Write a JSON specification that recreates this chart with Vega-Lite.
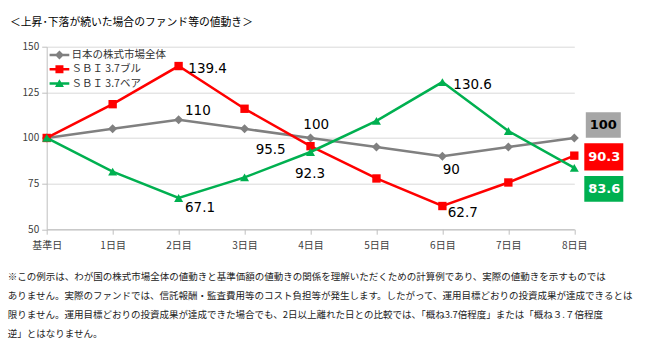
{
  "$schema": "https://vega.github.io/schema/vega-lite/v6.json",
  "autosize": "none",
  "width": 527.6,
  "height": 182.5,
  "padding": {"left": 46.7, "top": 46.7, "right": 76.7, "bottom": 123.8},
  "background": "white",
  "title": {
    "text": "＜上昇･下落が続いた場合のファンド等の値動き＞",
    "anchor": "start",
    "frame": "group",
    "orient": "top",
    "offset": 4.5,
    "dx": -36.7,
    "baseline": "alphabetic",
    "font": "Noto Sans CJK JP",
    "fontSize": 10.8,
    "fontWeight": "normal",
    "color": "#000000"
  },
  "config": {
    "view": {"stroke": null},
    "axis": {"labelFont": "Noto Sans CJK JP", "labelFontSize": 10, "labelColor": "#404040", "domainColor": "#bfbfbf", "tickColor": "#bfbfbf"}
  },
  "data": {
    "values": [
      {"day": "基準日", "series": "日本の株式市場全体", "value": 100},
      {"day": "1日目", "series": "日本の株式市場全体", "value": 105},
      {"day": "2日目", "series": "日本の株式市場全体", "value": 110},
      {"day": "3日目", "series": "日本の株式市場全体", "value": 105},
      {"day": "4日目", "series": "日本の株式市場全体", "value": 100},
      {"day": "5日目", "series": "日本の株式市場全体", "value": 95},
      {"day": "6日目", "series": "日本の株式市場全体", "value": 90},
      {"day": "7日目", "series": "日本の株式市場全体", "value": 95},
      {"day": "8日目", "series": "日本の株式市場全体", "value": 100},
      {"day": "基準日", "series": "ＳＢＩ 3.7ブル", "value": 100},
      {"day": "1日目", "series": "ＳＢＩ 3.7ブル", "value": 118.5},
      {"day": "2日目", "series": "ＳＢＩ 3.7ブル", "value": 139.4},
      {"day": "3日目", "series": "ＳＢＩ 3.7ブル", "value": 116.0},
      {"day": "4日目", "series": "ＳＢＩ 3.7ブル", "value": 95.5},
      {"day": "5日目", "series": "ＳＢＩ 3.7ブル", "value": 77.8},
      {"day": "6日目", "series": "ＳＢＩ 3.7ブル", "value": 62.7},
      {"day": "7日目", "series": "ＳＢＩ 3.7ブル", "value": 75.6},
      {"day": "8日目", "series": "ＳＢＩ 3.7ブル", "value": 90.3},
      {"day": "基準日", "series": "ＳＢＩ 3.7ベア", "value": 100},
      {"day": "1日目", "series": "ＳＢＩ 3.7ベア", "value": 81.5},
      {"day": "2日目", "series": "ＳＢＩ 3.7ベア", "value": 67.1},
      {"day": "3日目", "series": "ＳＢＩ 3.7ベア", "value": 78.4},
      {"day": "4日目", "series": "ＳＢＩ 3.7ベア", "value": 92.3},
      {"day": "5日目", "series": "ＳＢＩ 3.7ベア", "value": 109.4},
      {"day": "6日目", "series": "ＳＢＩ 3.7ベア", "value": 130.6},
      {"day": "7日目", "series": "ＳＢＩ 3.7ベア", "value": 103.8},
      {"day": "8日目", "series": "ＳＢＩ 3.7ベア", "value": 83.6}
    ]
  },
  "encoding": {
    "x": {
      "field": "day",
      "type": "ordinal",
      "sort": ["基準日", "1日目", "2日目", "3日目", "4日目", "5日目", "6日目", "7日目", "8日目"],
      "scale": {"type": "point", "padding": 0},
      "axis": {
        "labelAngle": 0,
        "tickSize": 5,
        "labelPadding": 6,
        "grid": false,
        "title": [
          "※この例示は、わが国の株式市場全体の値動きと基準価額の値動きの関係を理解いただくための計算例であり、実際の値動きを示すものでは",
          "ありません。実際のファンドでは、信託報酬・監査費用等のコスト負担等が発生します。したがって、運用目標どおりの投資成果が達成できるとは",
          "限りません。運用目標どおりの投資成果が達成できた場合でも、2日以上離れた日との比較では、「概ね3.7倍程度」または「概ね３.７倍程度",
          "逆」とはなりません。"
        ],
        "titleX": -39.4,
        "titleY": 50.2,
        "titleAlign": "left",
        "titleAnchor": "start",
        "titleBaseline": "alphabetic",
        "titleLineHeight": 19,
        "titleFont": "Noto Sans CJK JP",
        "titleFontSize": 9.5,
        "titleFontWeight": "normal",
        "titleColor": "#222222"
      }
    },
    "y": {
      "field": "value",
      "type": "quantitative",
      "scale": {"domain": [50, 150], "nice": false, "zero": false},
      "axis": {"values": [50, 75, 100, 125, 150], "title": null, "grid": true, "gridColor": "#d9d9d9", "tickSize": 5, "labelPadding": 3}
    }
  },
  "layer": [
    {
      "transform": [{"filter": "datum.series === '日本の株式市場全体'"}],
      "mark": {"type": "line", "strokeWidth": 2.5, "color": "#808080"}
    },
    {
      "transform": [{"filter": "datum.series === '日本の株式市場全体'"}],
      "mark": {"type": "point", "shape": "diamond", "filled": true, "opacity": 1, "size": 81, "color": "#808080"}
    },
    {
      "transform": [{"filter": "datum.series === 'ＳＢＩ 3.7ブル'"}],
      "mark": {"type": "line", "strokeWidth": 2.5, "color": "#ff0000"}
    },
    {
      "transform": [{"filter": "datum.series === 'ＳＢＩ 3.7ブル'"}],
      "mark": {"type": "point", "shape": "square", "filled": true, "opacity": 1, "size": 70, "color": "#ff0000"}
    },
    {
      "transform": [{"filter": "datum.series === 'ＳＢＩ 3.7ベア'"}],
      "mark": {"type": "line", "strokeWidth": 2.5, "color": "#00b050"}
    },
    {
      "transform": [{"filter": "datum.series === 'ＳＢＩ 3.7ベア'"}],
      "mark": {"type": "point", "shape": "triangle-up", "filled": true, "opacity": 1, "size": 81, "color": "#00b050"}
    },
    {
      "transform": [{"filter": "false"}],
      "mark": {"type": "point", "filled": true, "opacity": 1, "size": 100},
      "encoding": {
        "color": {
          "field": "series",
          "type": "nominal",
          "scale": {"domain": ["日本の株式市場全体", "ＳＢＩ 3.7ブル", "ＳＢＩ 3.7ベア"], "range": ["#808080", "#ff0000", "#00b050"]},
          "legend": {"orient": "none", "legendX": 7.5, "legendY": 3, "title": null, "symbolSize": 100, "labelFont": "Noto Sans CJK JP", "labelFontSize": 10.5, "labelColor": "#333333", "labelOffset": 6.8, "rowPadding": 3.3, "padding": 0, "symbolStrokeWidth": 0, "symbolOpacity": 1}
        },
        "shape": {
          "field": "series",
          "type": "nominal",
          "scale": {
            "domain": ["日本の株式市場全体", "ＳＢＩ 3.7ブル", "ＳＢＩ 3.7ベア"],
            "range": [
              "M-1.97,-0.26H1.97V0.26H-1.97Z M0,-0.9L0.9,0L0,0.9L-0.9,0Z",
              "M-1.97,-0.26H1.97V0.26H-1.97Z M-0.8,-0.8H0.8V0.8H-0.8Z",
              "M-1.97,-0.26H1.97V0.26H-1.97Z M0,-0.85L0.9,0.7L-0.9,0.7Z"
            ]
          },
          "legend": {"orient": "none", "legendX": 7.5, "legendY": 3, "title": null, "symbolSize": 100, "labelFont": "Noto Sans CJK JP", "labelFontSize": 10.5, "labelColor": "#333333", "labelOffset": 6.8, "rowPadding": 3.3, "padding": 0, "symbolStrokeWidth": 0, "symbolOpacity": 1}
        }
      }
    },
    {
      "transform": [{"filter": "datum.series === 'ＳＢＩ 3.7ブル' && datum.day === '2日目'"}],
      "mark": {"type": "text", "align": "left", "baseline": "alphabetic", "dx": 9.7, "dy": 7.3, "font": "DejaVu Sans", "fontSize": 13.5, "color": "#000000"},
      "encoding": {"text": {"field": "value", "type": "nominal"}}
    },
    {
      "transform": [{"filter": "datum.series === '日本の株式市場全体' && datum.day === '2日目'"}],
      "mark": {"type": "text", "align": "left", "baseline": "alphabetic", "dx": 6.4, "dy": -4.5, "font": "DejaVu Sans", "fontSize": 13.5, "color": "#000000"},
      "encoding": {"text": {"field": "value", "type": "nominal"}}
    },
    {
      "transform": [{"filter": "datum.series === 'ＳＢＩ 3.7ベア' && datum.day === '2日目'"}],
      "mark": {"type": "text", "align": "left", "baseline": "alphabetic", "dx": 6.4, "dy": 13.7, "font": "DejaVu Sans", "fontSize": 13.5, "color": "#000000"},
      "encoding": {"text": {"field": "value", "type": "nominal"}}
    },
    {
      "transform": [{"filter": "datum.series === 'ＳＢＩ 3.7ブル' && datum.day === '4日目'"}],
      "mark": {"type": "text", "align": "right", "baseline": "alphabetic", "dx": -24.8, "dy": 7.8, "font": "DejaVu Sans", "fontSize": 13.5, "color": "#000000"},
      "encoding": {"text": {"field": "value", "type": "nominal"}}
    },
    {
      "transform": [{"filter": "datum.series === '日本の株式市場全体' && datum.day === '4日目'"}],
      "mark": {"type": "text", "align": "left", "baseline": "alphabetic", "dx": -7.2, "dy": -9, "font": "DejaVu Sans", "fontSize": 13.5, "color": "#000000"},
      "encoding": {"text": {"field": "value", "type": "nominal"}}
    },
    {
      "transform": [{"filter": "datum.series === 'ＳＢＩ 3.7ベア' && datum.day === '4日目'"}],
      "mark": {"type": "text", "align": "left", "baseline": "alphabetic", "dx": -15.5, "dy": 25.7, "font": "DejaVu Sans", "fontSize": 13.5, "color": "#000000"},
      "encoding": {"text": {"field": "value", "type": "nominal"}}
    },
    {
      "transform": [{"filter": "datum.series === 'ＳＢＩ 3.7ベア' && datum.day === '6日目'"}],
      "mark": {"type": "text", "align": "left", "baseline": "alphabetic", "dx": 10.9, "dy": 7.2, "font": "DejaVu Sans", "fontSize": 13.5, "color": "#000000"},
      "encoding": {"text": {"field": "value", "type": "nominal"}}
    },
    {
      "transform": [{"filter": "datum.series === '日本の株式市場全体' && datum.day === '6日目'"}],
      "mark": {"type": "text", "align": "left", "baseline": "alphabetic", "dx": 0.3, "dy": 17.8, "font": "DejaVu Sans", "fontSize": 13.5, "color": "#000000"},
      "encoding": {"text": {"field": "value", "type": "nominal"}}
    },
    {
      "transform": [{"filter": "datum.series === 'ＳＢＩ 3.7ブル' && datum.day === '6日目'"}],
      "mark": {"type": "text", "align": "left", "baseline": "alphabetic", "dx": 5.3, "dy": 11.3, "font": "DejaVu Sans", "fontSize": 13.5, "color": "#000000"},
      "encoding": {"text": {"field": "value", "type": "nominal"}}
    },
    {
      "transform": [{"filter": "datum.series === '日本の株式市場全体' && datum.day === '8日目'"}],
      "mark": {"type": "point", "shape": "M-1,-0.726H1V0.726H-1Z", "filled": true, "opacity": 1, "size": 1225, "color": "#a6a6a6", "xOffset": 29, "yOffset": -13}
    },
    {
      "transform": [{"filter": "datum.series === 'ＳＢＩ 3.7ブル' && datum.day === '8日目'"}],
      "mark": {"type": "point", "shape": "M-1,-0.7H1V0.7H-1Z", "filled": true, "opacity": 1, "size": 1521, "color": "#ff0000", "xOffset": 29.5, "yOffset": 1.3}
    },
    {
      "transform": [{"filter": "datum.series === 'ＳＢＩ 3.7ベア' && datum.day === '8日目'"}],
      "mark": {"type": "point", "shape": "M-1,-0.66H1V0.66H-1Z", "filled": true, "opacity": 1, "size": 1521, "color": "#00b050", "xOffset": 29.5, "yOffset": 21}
    },
    {
      "transform": [{"filter": "datum.series === '日本の株式市場全体' && datum.day === '8日目'"}],
      "mark": {"type": "text", "align": "center", "baseline": "middle", "xOffset": 29, "yOffset": -13, "font": "DejaVu Sans", "fontWeight": "bold", "fontSize": 13, "color": "#000000"},
      "encoding": {"text": {"field": "value", "type": "nominal"}}
    },
    {
      "transform": [{"filter": "datum.series === 'ＳＢＩ 3.7ブル' && datum.day === '8日目'"}],
      "mark": {"type": "text", "align": "center", "baseline": "middle", "xOffset": 30, "yOffset": 1.3, "font": "DejaVu Sans", "fontWeight": "bold", "fontSize": 13, "color": "#ffffff"},
      "encoding": {"text": {"field": "value", "type": "nominal"}}
    },
    {
      "transform": [{"filter": "datum.series === 'ＳＢＩ 3.7ベア' && datum.day === '8日目'"}],
      "mark": {"type": "text", "align": "center", "baseline": "middle", "xOffset": 30, "yOffset": 21, "font": "DejaVu Sans", "fontWeight": "bold", "fontSize": 13, "color": "#ffffff"},
      "encoding": {"text": {"field": "value", "type": "nominal"}}
    }
  ]
}
